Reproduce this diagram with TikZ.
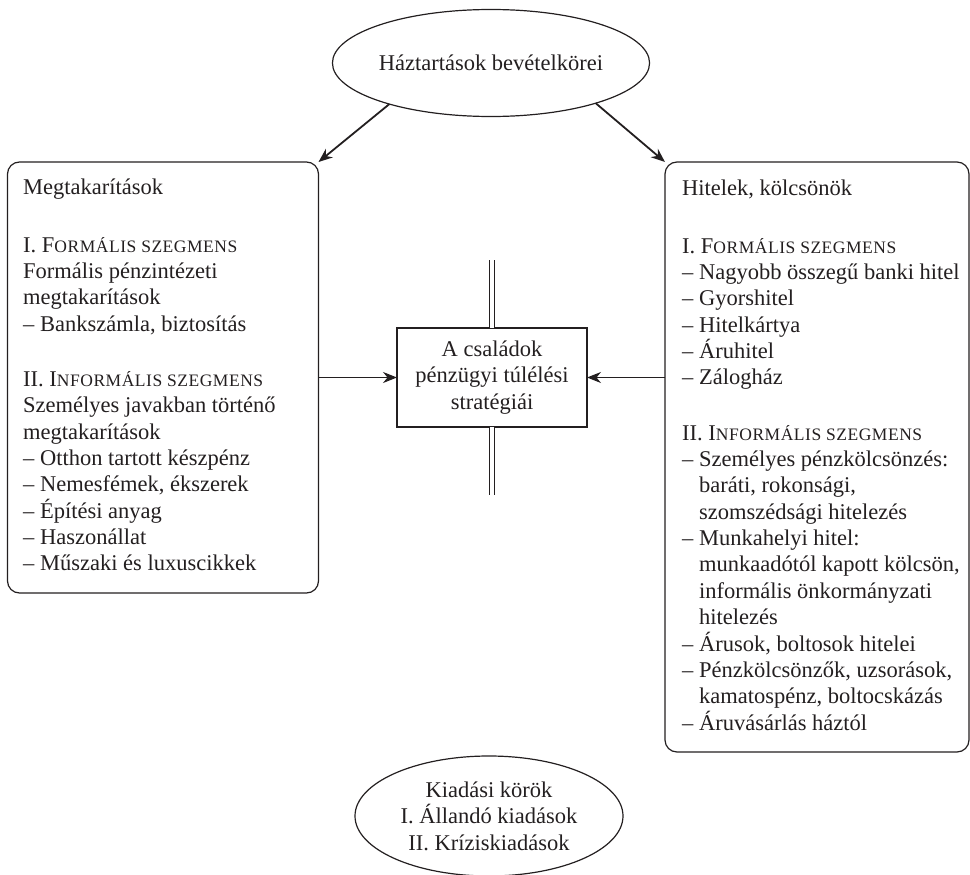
\documentclass[tikz,border=0pt]{standalone}
\usepackage{fontspec}
\setmainfont{Liberation Serif}
\newfontfamily\scfont[LetterSpace=3]{Liberation Serif}
\usetikzlibrary{arrows.meta,shapes.geometric}
\definecolor{ink}{HTML}{231F20}
\newcommand{\smcp}[1]{{\scfont\fontsize{17.5pt}{26.4pt}\selectfont #1}}
\newcommand{\ind}{\phantom{– }}
\begin{document}
\begin{tikzpicture}[x=1pt,y=-1pt,
  every node/.style={text=ink, font=\fontsize{22.5pt}{26.4pt}\selectfont},
  roundbox/.style={draw=ink, line width=1.2pt, rounded corners=12pt, inner sep=0pt, outer sep=0pt, anchor=north west},
  centerbox/.style={draw=ink, line width=1.2pt, inner sep=0pt, outer sep=0pt, minimum width=190pt, minimum height=99pt, align=center},
  oval/.style={ellipse, draw=ink, line width=1.2pt, inner sep=0pt, outer sep=0pt, align=center},
  txt/.style={anchor=base west, inner sep=0pt},
  arr/.style={draw=ink, line width=1.8pt, -{Stealth[length=14pt,width=11pt]}},
  harr/.style={draw=ink, line width=1.8pt, -{Stealth[length=14pt,width=11pt]}},
  dbl/.style={draw=ink, line width=1pt, double=white, double distance=3.8pt}
]
\useasboundingbox (0,0) rectangle (970,875);
\clip (0,0) rectangle (970,875);

\node[oval, minimum width=287pt, minimum height=107pt] (T) at (491,63) {Háztartások bevételkörei};

\node[roundbox, minimum width=311pt, minimum height=431pt] (L) at (7.5,162) {};
\node[roundbox, minimum width=304pt, minimum height=590pt] (R) at (665,162) {};

\node[txt] (Lt) at (23,194) {\parbox[t]{400pt}{\raggedright
Megtakarítások\\[31.6pt]
I. F\smcp{ORMÁLIS SZEGMENS}\\
Formális pénzintézeti\\
megtakarítások\\
– Bankszámla, biztosítás\\[28.6pt]
II. I\smcp{NFORMÁLIS SZEGMENS}\\
Személyes javakban történő\\
megtakarítások\\
– Otthon tartott készpénz\\
– Nemesfémek, ékszerek\\
– Építési anyag\\
– Haszonállat\\
– Műszaki és luxuscikkek}};

\node[txt] (Rt) at (682,195) {\parbox[t]{400pt}{\raggedright
Hitelek, kölcsönök\\[31.6pt]
I. F\smcp{ORMÁLIS SZEGMENS}\\
– Nagyobb összegű banki hitel\\
– Gyorshitel\\
– Hitelkártya\\
– Áruhitel\\
– Zálogház\\[28.6pt]
II. I\smcp{NFORMÁLIS SZEGMENS}\\
– Személyes pénzkölcsönzés:\\
\ind baráti, rokonsági,\\
\ind szomszédsági hitelezés\\
– Munkahelyi hitel:\\
\ind munkaadótól kapott kölcsön,\\
\ind informális önkormányzati\\
\ind hitelezés\\
– Árusok, boltosok hitelei\\
– Pénzkölcsönzők, uzsorások,\\
\ind kamatospénz, boltocskázás\\
– Áruvásárlás háztól}};

\node[centerbox] (C) at (492,377.5) {A családok\\pénzügyi túlélési\\stratégiái};

\coordinate (dtop) at (492,260);
\coordinate (dbot) at (492,495);
\draw[dbl] (dtop) -- (C.north);
\draw[dbl] (C.south) -- (dbot);

\node[oval, minimum width=268pt, minimum height=120pt] (B) at (489,816) {Kiadási körök\\I. Állandó kiadások\\II. Kríziskiadások};

\draw[arr] (T.202) -- (L.north east);
\draw[arr] (T.339) -- (R.north west);
\draw[harr] (L.east |- C.west) -- (C.west);
\draw[harr] (R.west |- C.east) -- (C.east);
\end{tikzpicture}
\end{document}
